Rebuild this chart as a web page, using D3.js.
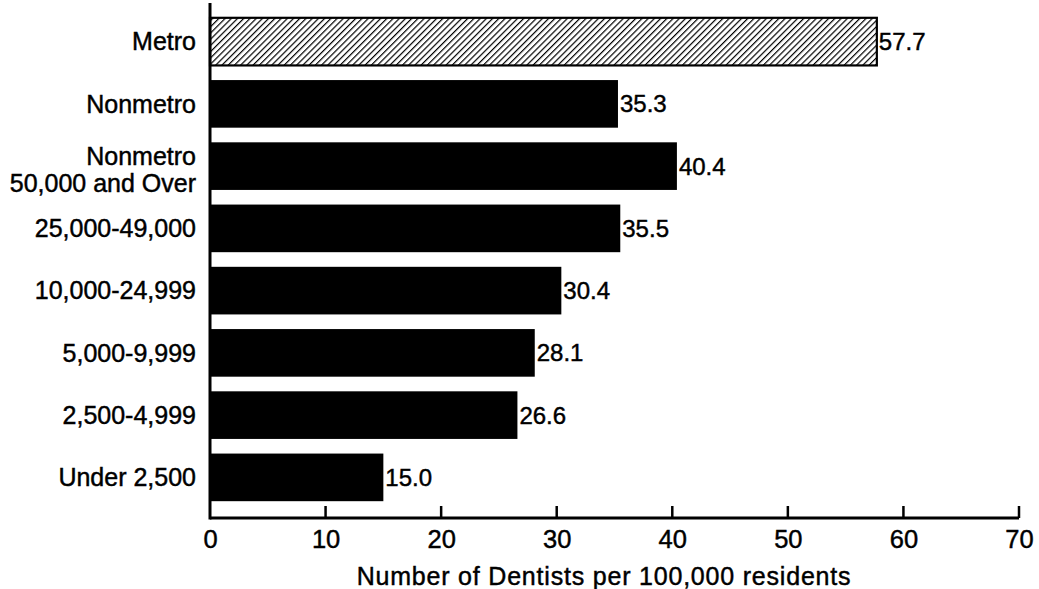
<!DOCTYPE html>
<html>
<head>
<meta charset="utf-8">
<script src="https://cdn.jsdelivr.net/npm/d3@7"></script>
<style>
  html, body { margin: 0; padding: 0; background: #fff; }
  text { font-family: "Liberation Sans", Arial, Helvetica, sans-serif; fill: #000; stroke: #000; stroke-width: 0.45px; }
</style>
</head>
<body>
<svg id="chart" width="1039" height="589"></svg>
<script>
const categories = [
  ["Metro"],
  ["Nonmetro"],
  ["Nonmetro", "50,000 and Over"],
  ["25,000-49,000"],
  ["10,000-24,999"],
  ["5,000-9,999"],
  ["2,500-4,999"],
  ["Under 2,500"]
];
const values = [57.7, 35.3, 40.4, 35.5, 30.4, 28.1, 26.6, 15.0];
const valueLabels = ["57.7", "35.3", "40.4", "35.5", "30.4", "28.1", "26.6", "15.0"];
const xTicks = [0, 10, 20, 30, 40, 50, 60, 70];
const xTitle = "Number of Dentists per 100,000 residents";

const svg = d3.select("#chart");
const keys = categories.map((c, i) => i);

const x = d3.scaleLinear().domain([0, 70]).range([210, 1019]);
const y = d3.scaleBand().domain(keys).range([10.5, 508.5]).paddingInner(0.235).paddingOuter(0.1175);

const axisY = 518, axisTop = 3;

// hatch pattern
const defs = svg.append("defs");
const pat = defs.append("pattern")
  .attr("id", "hatch")
  .attr("patternUnits", "userSpaceOnUse")
  .attr("width", 4.4).attr("height", 4.4)
  .attr("patternTransform", "rotate(45)");
pat.append("rect").attr("width", 4.4).attr("height", 4.4).attr("fill", "#fff");
pat.append("line").attr("x1", 0.6).attr("y1", 0).attr("x2", 0.6).attr("y2", 4.4)
  .attr("stroke", "#000").attr("stroke-width", 1.2);

// bars
svg.selectAll("rect.bar")
  .data(keys)
  .join("rect")
  .attr("class", "bar")
  .attr("x", x(0))
  .attr("y", i => y(i))
  .attr("width", i => x(values[i]) - x(0))
  .attr("height", y.bandwidth())
  .attr("fill", i => i === 0 ? "url(#hatch)" : "#000")
  .attr("stroke", i => i === 0 ? "#000" : "none")
  .attr("stroke-width", 2.2);

// value labels
svg.selectAll("text.val")
  .data(keys)
  .join("text")
  .attr("class", "val")
  .attr("x", i => x(values[i]) + 2)
  .attr("y", i => y(i) + y.bandwidth() / 2)
  .attr("dy", "0.35em")
  .attr("font-size", 24)
  .text(i => valueLabels[i]);

// category labels
const fsCat = 25;
const cat = svg.selectAll("text.cat")
  .data(keys)
  .join("text")
  .attr("class", "cat")
  .attr("text-anchor", "end")
  .attr("font-size", fsCat)
  .attr("x", 196)
  .attr("y", i => y(i) + y.bandwidth() / 2 + (categories[i].length > 1 ? 4 : 0));
cat.each(function(i) {
  const lines = categories[i];
  const n = lines.length;
  const lh = 27;
  d3.select(this).selectAll("tspan")
    .data(lines)
    .join("tspan")
    .attr("x", 196)
    .attr("dy", (d, j) => j === 0 ? (0.35 * fsCat - (n - 1) * lh / 2) : lh)
    .text(d => d);
});

// x axis
const xAxis = d3.axisBottom(x)
  .tickValues(xTicks)
  .tickSize(0)
  .tickPadding(12)
  .tickFormat(d3.format("d"));
const gx = svg.append("g").attr("transform", `translate(0,${axisY})`).call(xAxis);
gx.select(".domain").remove();
gx.selectAll("text").attr("font-size", 25.5).attr("font-family", null).attr("fill", "#000");

svg.append("line")
  .attr("x1", x(0)).attr("x2", x(70))
  .attr("y1", axisY).attr("y2", axisY)
  .attr("stroke", "#000").attr("stroke-width", 3);
svg.selectAll("line.tick")
  .data(xTicks.filter(d => d > 0))
  .join("line")
  .attr("class", "tick")
  .attr("x1", d => x(d)).attr("x2", d => x(d))
  .attr("y1", axisY).attr("y2", axisY - 12)
  .attr("stroke", "#000").attr("stroke-width", 2.5);

// y axis line
svg.append("line")
  .attr("x1", x(0)).attr("x2", x(0))
  .attr("y1", axisTop).attr("y2", axisY + 1.5)
  .attr("stroke", "#000").attr("stroke-width", 3);

// x title
svg.append("text")
  .attr("x", 604)
  .attr("y", 585)
  .attr("text-anchor", "middle")
  .attr("font-size", 25)
  .attr("letter-spacing", "0.8px")
  .text(xTitle);
</script>
</body>
</html>
